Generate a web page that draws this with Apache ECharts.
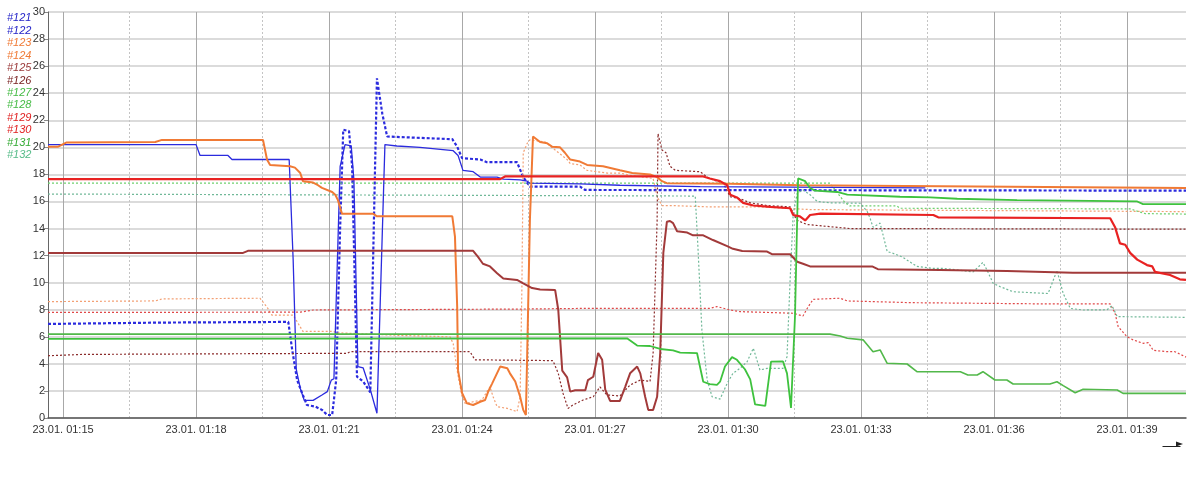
<!DOCTYPE html>
<html>
<head>
<meta charset="utf-8">
<script src="https://cdn.jsdelivr.net/npm/echarts@6/dist/echarts.min.js"></script>
<style>
  html, body { margin: 0; padding: 0; background: #ffffff; }
  #chart { width: 1188px; height: 477px; }
</style>
</head>
<body>
<div id="chart"></div>
<script>
// Time values are minutes after 01:00 on 23.01.
const seriesNames = ['#121','#122','#123','#124','#125','#126','#127','#128','#129','#130','#131','#132'];
const xMajorTicks = [15, 18, 21, 24, 27, 30, 33, 36, 39];
const xMinorTicks = [16.5, 19.5, 22.5, 25.5, 28.5, 31.5, 34.5, 37.5];
const dateLabel = '23.01.';

const s121 = [[14.66,20.2],[18.00,20.2],[18.09,19.4],[18.72,19.4],[18.81,19.1],[20.10,19.1],[20.19,11.7],[20.26,3.6],[20.35,2.2],[20.44,1.3],[20.64,1.3],[20.84,1.7],[20.96,1.95],[21.05,2.8],[21.11,2.9],[21.25,18.6],[21.36,20.2],[21.50,20.1],[21.56,17.6],[21.65,3.8],[21.77,3.7],[21.93,2.1],[22.08,0.35],[22.26,20.2],[22.53,20.1],[23.05,20.0],[23.80,19.75],[23.91,19.4],[24.02,18.3],[24.25,18.2],[24.41,17.8],[24.79,17.8],[24.93,17.65],[25.31,17.6],[25.47,17.5],[25.53,17.35],[26.66,17.3],[27.56,17.2],[29.37,17.1],[34.45,17.0]];
const s122 = [[14.66,6.95],[17.19,7.05],[20.08,7.1],[20.17,5.0],[20.28,2.8],[20.39,1.85],[20.50,0.96],[20.69,0.84],[20.84,0.6],[20.96,0.22],[21.07,0.22],[21.16,2.8],[21.25,14.1],[21.32,21.3],[21.45,21.2],[21.52,18.6],[21.63,3.05],[21.77,2.7],[21.93,1.9],[22.08,25.1],[22.20,22.5],[22.31,20.8],[23.78,20.6],[23.89,20.05],[24.00,19.2],[24.41,19.1],[24.56,18.9],[25.24,18.9],[25.38,17.8],[25.53,17.1],[26.66,17.1],[26.78,16.85],[40.33,16.8]];
const s123 = [[14.66,20.05],[14.89,20.05],[15.07,20.35],[17.08,20.4],[17.23,20.55],[19.51,20.55],[19.60,19.1],[19.67,18.7],[20.12,18.6],[20.23,18.5],[20.35,18.1],[20.41,17.5],[20.64,17.4],[20.75,17.2],[20.84,17.0],[21.07,16.7],[21.14,16.5],[21.20,16.1],[21.29,15.1],[21.99,15.1],[22.08,14.9],[23.78,14.9],[23.84,13.4],[23.89,8.2],[23.91,3.5],[24.00,1.85],[24.11,1.08],[24.25,0.96],[24.41,1.2],[24.52,1.33],[24.59,1.95],[24.68,2.56],[24.86,3.8],[25.02,3.67],[25.08,3.3],[25.20,2.7],[25.31,1.57],[25.38,0.6],[25.44,0.22],[25.47,4.8],[25.53,14.6],[25.60,20.8],[25.76,20.4],[25.92,20.3],[26.03,20.05],[26.21,20.0],[26.32,19.6],[26.44,19.1],[26.66,18.95],[26.82,18.7],[27.18,18.6],[27.56,18.3],[27.84,18.1],[28.24,18.0],[28.40,17.8],[28.51,17.5],[28.62,17.35],[30.05,17.3],[31.62,17.2],[40.33,17.0]];
const s124 = [[14.66,8.6],[17.08,8.65],[17.23,8.8],[19.44,8.85],[19.60,8.2],[19.71,7.6],[20.19,7.6],[20.41,6.4],[21.09,6.4],[21.18,6.3],[22.60,6.1],[23.73,6.0],[23.80,5.5],[23.89,3.5],[24.00,1.57],[24.07,1.08],[24.25,1.2],[24.45,1.33],[24.56,1.95],[24.63,2.3],[24.70,1.57],[24.79,0.84],[25.02,0.71],[25.24,0.47],[25.31,1.57],[25.35,9.7],[25.38,19.6],[25.47,20.3],[25.53,20.55],[25.87,20.4],[26.10,19.8],[26.37,19.1],[26.44,18.8],[26.66,18.7],[26.82,18.3],[27.27,18.1],[27.56,18.1],[27.84,17.9],[28.31,17.7],[28.40,16.35],[28.51,15.7],[28.69,15.7],[29.59,15.6],[30.72,15.6],[31.85,15.4],[40.33,15.25]];
const s125 = [[14.66,12.2],[19.06,12.2],[19.17,12.35],[24.25,12.35],[24.36,11.9],[24.47,11.4],[24.63,11.2],[24.79,10.7],[24.93,10.3],[25.24,10.2],[25.38,9.95],[25.58,9.6],[25.76,9.5],[26.10,9.45],[26.17,8.0],[26.26,3.5],[26.37,3.0],[26.44,1.95],[26.55,2.05],[26.78,2.05],[26.84,2.8],[26.96,3.05],[27.07,4.8],[27.16,4.3],[27.23,2.1],[27.34,1.26],[27.56,1.26],[27.68,2.3],[27.79,3.3],[27.95,3.8],[28.02,3.3],[28.13,1.57],[28.20,0.6],[28.31,0.6],[28.40,1.57],[28.47,4.8],[28.54,12.2],[28.62,14.5],[28.69,14.56],[28.76,14.4],[28.85,13.8],[29.08,13.7],[29.21,13.5],[29.44,13.5],[29.66,13.15],[29.98,12.7],[30.11,12.5],[30.32,12.34],[30.88,12.3],[30.99,12.1],[31.40,12.1],[31.56,11.55],[31.69,11.4],[31.85,11.2],[33.25,11.2],[33.38,11.0],[34.78,10.94],[36.29,10.86],[37.78,10.74],[40.33,10.74]];
const s126 = [[14.66,4.6],[15.45,4.7],[21.41,4.78],[21.47,4.9],[24.18,4.9],[24.29,4.3],[26.05,4.24],[26.17,3.3],[26.28,1.8],[26.39,0.71],[26.50,0.96],[26.73,1.33],[26.96,1.57],[27.11,2.3],[27.27,1.7],[27.56,1.63],[27.79,2.44],[28.02,2.8],[28.24,2.7],[28.31,4.8],[28.40,14.6],[28.42,21.0],[28.51,19.8],[28.60,19.6],[28.69,18.6],[28.81,18.3],[29.37,18.2],[29.53,17.8],[29.66,17.6],[29.89,17.35],[30.05,16.35],[30.27,16.2],[30.50,15.9],[30.88,15.7],[31.40,15.6],[31.56,14.6],[31.78,14.3],[32.75,14.0],[40.33,13.95]];
const s127 = [[14.66,5.85],[27.72,5.89],[27.95,5.35],[28.24,5.32],[28.47,5.1],[28.76,5.0],[28.92,4.83],[29.30,4.8],[29.44,2.68],[29.59,2.5],[29.75,2.45],[29.82,2.68],[29.93,3.8],[30.09,4.5],[30.20,4.3],[30.38,3.6],[30.50,2.85],[30.61,1.0],[30.84,0.9],[30.97,4.16],[31.24,4.18],[31.33,3.3],[31.42,0.75],[31.51,7.5],[31.58,17.7],[31.74,17.5],[31.85,17.0],[31.96,16.8],[32.46,16.7],[32.69,16.5],[33.88,16.35],[34.56,16.3],[35.17,16.2],[36.52,16.1],[38.17,16.04],[39.23,16.0],[39.36,15.8],[40.33,15.8]];
const s128 = [[14.66,17.35],[32.30,17.35],[32.64,15.9],[32.75,15.67],[33.81,15.67],[33.88,15.5],[39.07,15.45],[39.41,15.1],[40.33,15.07]];
const s129 = [[14.66,17.65],[24.86,17.65],[24.97,17.85],[29.44,17.85],[29.59,17.7],[29.82,17.5],[29.98,17.2],[30.05,16.5],[30.20,16.3],[30.34,15.9],[30.57,15.7],[30.95,15.6],[31.40,15.5],[31.47,15.0],[31.62,14.9],[31.74,14.6],[31.85,15.0],[32.08,15.1],[34.63,15.0],[34.74,14.83],[38.62,14.76],[38.73,14.1],[38.84,12.9],[38.96,12.8],[39.07,12.2],[39.23,11.7],[39.45,11.3],[39.57,11.2],[39.63,10.8],[39.97,10.57],[40.19,10.25],[40.33,10.2]];
const s130 = [[14.66,7.8],[20.35,7.82],[20.64,7.98],[25.31,8.05],[26.82,8.1],[29.59,8.1],[29.75,8.23],[30.05,7.98],[30.27,7.86],[31.47,7.74],[31.69,7.54],[31.81,8.23],[31.92,8.77],[32.53,8.85],[32.69,8.65],[34.17,8.52],[37.20,8.43],[38.62,8.43],[38.73,7.74],[38.80,6.75],[39.00,6.0],[39.14,5.77],[39.36,5.52],[39.48,5.57],[39.59,5.0],[39.90,4.9],[40.08,4.9],[40.33,4.5]];
const s131 = [[14.66,6.2],[32.30,6.2],[32.53,6.06],[32.69,5.89],[33.05,5.77],[33.27,4.9],[33.43,5.03],[33.59,4.04],[34.04,3.99],[34.26,3.42],[35.24,3.42],[35.41,3.18],[35.62,3.18],[35.75,3.42],[36.02,2.81],[36.29,2.81],[36.43,2.51],[37.26,2.51],[37.42,2.68],[37.56,2.39],[37.83,1.87],[38.01,2.12],[38.78,2.07],[38.91,1.82],[40.33,1.82]];
const s132 = [[14.66,16.55],[29.26,16.4],[29.32,12.66],[29.41,6.5],[29.53,2.8],[29.64,1.57],[29.82,1.4],[29.98,2.56],[30.11,3.3],[30.27,3.67],[30.43,4.16],[30.57,5.15],[30.72,3.55],[30.88,3.67],[31.24,3.67],[31.33,4.53],[31.40,10.2],[31.47,15.1],[31.56,16.6],[31.69,16.85],[31.85,16.5],[32.01,16.0],[32.30,15.9],[32.98,15.87],[33.14,15.25],[33.20,14.8],[33.27,14.1],[33.43,14.4],[33.59,12.3],[33.72,12.17],[33.93,11.9],[34.26,11.2],[34.63,11.06],[34.85,11.06],[35.53,10.8],[35.75,11.5],[35.84,10.94],[35.98,9.95],[36.14,9.7],[36.43,9.33],[37.22,9.2],[37.42,10.9],[37.56,9.2],[37.72,8.1],[38.01,7.98],[38.55,8.0],[38.66,8.3],[38.78,7.49],[40.33,7.44]];

const seriesData = [s121, s122, s123, s124, s125, s126, s127, s128, s129, s130, s131, s132];

// styles (not data)
const styles = [
  {color:'#2b2bde', width:1.3, type:'solid', legend:'#2424c8'},
  {color:'#2b2bde', width:2.2, type:[3,2], legend:'#2424c8'},
  {color:'#f07a35', width:2.0, type:'solid', legend:'#f07a35'},
  {color:'#f3a074', width:1.2, type:[2,2], legend:'#f07a35'},
  {color:'#a23a3a', width:2.0, type:'solid', legend:'#9a3838'},
  {color:'#8a2a2a', width:1.2, type:[2,2], legend:'#7a2222'},
  {color:'#3ec23e', width:1.8, type:'solid', legend:'#44bb44'},
  {color:'#6fd06f', width:1.2, type:[2,2], legend:'#44bb44'},
  {color:'#e82222', width:2.2, type:'solid', legend:'#e02020'},
  {color:'#e04848', width:1.2, type:[2,2], legend:'#e02020'},
  {color:'#52b84a', width:1.6, type:'solid', legend:'#33aa33'},
  {color:'#70b898', width:1.2, type:[2,2], legend:'#55bb88'}
];

const chart = echarts.init(document.getElementById('chart'), null, {renderer: 'canvas'});

const fmt = v => dateLabel + ' 01:' + String(Math.round(v)).padStart(2, '0');

const option = {
  animation: false,
  backgroundColor: '#ffffff',
  textStyle: { fontFamily: 'Liberation Sans, Arial, sans-serif' },
  legend: {
    orient: 'vertical',
    left: 2,
    top: 12,
    padding: 0,
    itemGap: 0,
    itemWidth: 0,
    itemHeight: 12.45,
    icon: 'rect',
    selectedMode: false,
    data: seriesNames.map((n, i) => ({
      name: n,
      itemStyle: { opacity: 0 },
      textStyle: { color: styles[i].legend, fontStyle: 'italic', fontSize: 11, lineHeight: 12 }
    }))
  },
  grid: { left: 48, right: 2, top: 12, bottom: 59, containLabel: false },
  xAxis: [
    {
      type: 'value',
      min: 14.66,
      max: 40.33,
      axisLine: { show: true, onZero: false, lineStyle: { color: '#555', width: 1.5 } },
      axisTick: { show: false, customValues: xMajorTicks },
      axisLabel: { customValues: xMajorTicks, formatter: fmt, color: '#333', fontSize: 11, margin: 6 },
      splitLine: { show: true, lineStyle: { color: '#a8a8a8', width: 1 } }
    },
    {
      type: 'value',
      position: 'top',
      min: 14.66,
      max: 40.33,
      axisLine: { show: false },
      axisTick: { show: false, customValues: xMinorTicks },
      axisLabel: { show: false, customValues: xMinorTicks },
      splitLine: { show: true, lineStyle: { color: '#c4c4c4', width: 1, type: [2, 2] } }
    }
  ],
  yAxis: {
    type: 'value',
    min: 0,
    max: 30,
    interval: 2,
    axisLine: { show: true, lineStyle: { color: '#666', width: 1 } },
    axisTick: { show: true, length: 4, lineStyle: { color: '#888' } },
    axisLabel: { color: '#333', fontSize: 11, margin: 3 },
    splitLine: { show: true, lineStyle: { color: '#cfcfcf', width: 1.5 } }
  },
  series: seriesNames.map((n, i) => ({
    name: n,
    type: 'line',
    xAxisIndex: 0,
    data: seriesData[i],
    showSymbol: false,
    symbol: 'none',
    color: styles[i].color,
    lineStyle: { color: styles[i].color, width: styles[i].width, type: styles[i].type },
    emphasis: { disabled: true },
    silent: true,
    z: 2 + (i % 2 === 0 ? 1 : 0)
  })),
  graphic: [
    { type: 'line', left: 1160, top: 444, shape: { x1: 0, y1: 0, x2: 18, y2: 0 }, style: { stroke: '#222', lineWidth: 1 } },
    { type: 'polygon', left: 1176, top: 441.5, shape: { points: [[0, 0], [7, 2.5], [0, 5]] }, style: { fill: '#222' } }
  ]
};

chart.setOption(option);
</script>
</body>
</html>
